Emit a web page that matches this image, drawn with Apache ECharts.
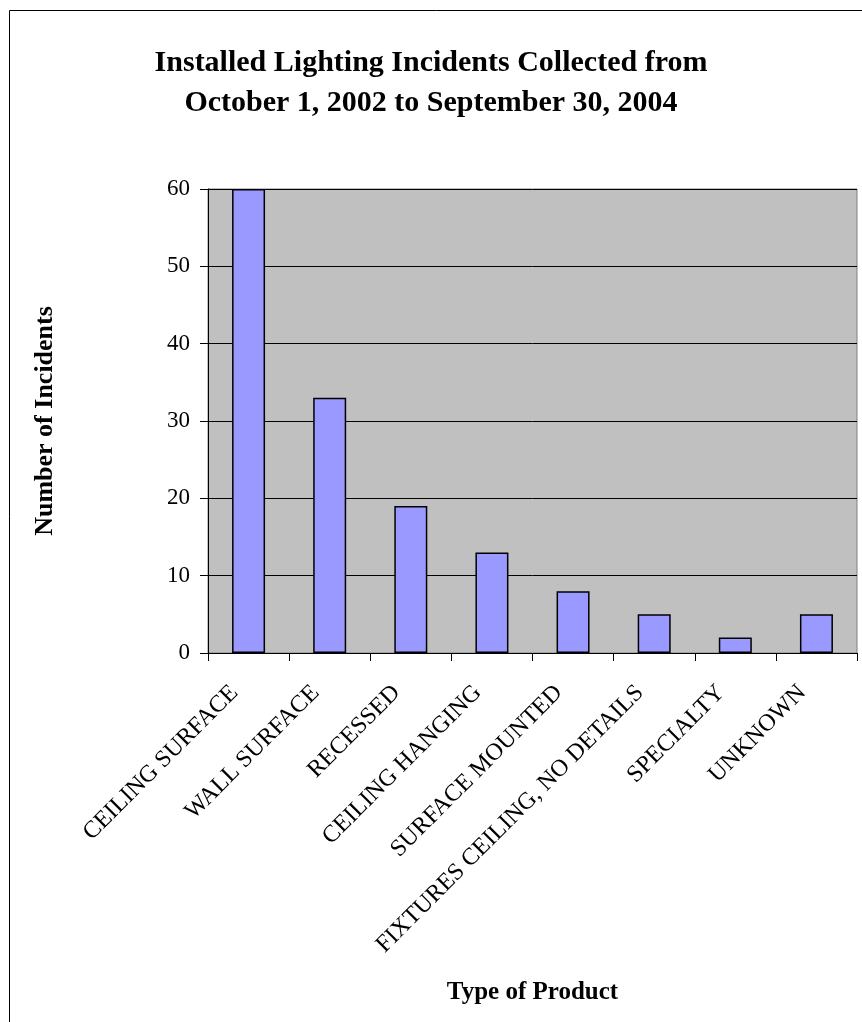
<!DOCTYPE html>
<html>
<head>
<meta charset="utf-8">
<script src="https://cdn.jsdelivr.net/npm/echarts@6/dist/echarts.min.js"></script>
<style>
html,body{margin:0;padding:0;background:#fff;}
#chart{width:862px;height:1022px;}
</style>
</head>
<body>
<div id="chart"></div>
<script>
const titleLines = ["Installed Lighting Incidents Collected from", "October 1, 2002 to September 30, 2004"];
const categories = ["CEILING SURFACE", "WALL SURFACE", "RECESSED", "CEILING HANGING", "SURFACE MOUNTED", "FIXTURES CEILING, NO DETAILS", "SPECIALTY", "UNKNOWN"];
const incidents = [60, 33, 19, 13, 8, 5, 2, 5];
const yTicks = [0, 10, 20, 30, 40, 50, 60];
const yAxisTitle = "Number of Incidents";
const xAxisTitle = "Type of Product";

const font = "'Liberation Serif', 'Times New Roman', serif";
const chart = echarts.init(document.getElementById('chart'), null, {renderer: 'canvas'});
chart.setOption({
  backgroundColor: '#ffffff',
  animation: false,
  title: {
    text: titleLines.join('\n'),
    left: 'center',
    top: 38,
    textStyle: {fontFamily: font, fontWeight: 'bold', fontSize: 30, lineHeight: 40, color: '#000'}
  },
  graphic: [{
    type: 'rect',
    shape: {x: 9.5, y: 10.5, width: 900, height: 1100},
    style: {fill: 'none', stroke: '#000', lineWidth: 1},
    silent: true
  }],
  grid: {
    left: 208, top: 189, right: 5, bottom: 369,
    show: true, backgroundColor: '#c0c0c0', borderColor: '#808080', borderWidth: 1
  },
  xAxis: {
    type: 'category',
    data: categories,
    name: xAxisTitle,
    nameLocation: 'middle',
    nameGap: 327,
    nameTextStyle: {fontFamily: font, fontWeight: 'bold', fontSize: 25, color: '#000'},
    axisLine: {lineStyle: {color: '#000', width: 1}},
    axisTick: {show: true, alignWithLabel: false, length: 8, lineStyle: {color: '#000'}},
    axisLabel: {
      rotate: 45, interval: 0, margin: 22,
      fontFamily: font, fontSize: 24, color: '#000',
      padding: [0, 20, 0, 0]
    },
    splitLine: {show: false}
  },
  yAxis: {
    type: 'value',
    min: yTicks[0], max: yTicks[yTicks.length - 1], interval: 10,
    name: yAxisTitle,
    nameLocation: 'middle',
    nameGap: 150,
    nameTextStyle: {fontFamily: font, fontWeight: 'bold', fontSize: 26, color: '#000'},
    axisLine: {show: true, lineStyle: {color: '#000', width: 1}},
    axisTick: {show: true, length: 8, lineStyle: {color: '#000'}},
    axisLabel: {fontFamily: font, fontSize: 23, color: '#000', margin: 18},
    splitLine: {show: true, lineStyle: {color: '#000', width: 1}}
  },
  series: [{
    type: 'bar',
    data: incidents,
    barWidth: 33,
    itemStyle: {color: '#9999ff', borderColor: '#000', borderWidth: 1.5}
  }]
});
</script>
</body>
</html>
